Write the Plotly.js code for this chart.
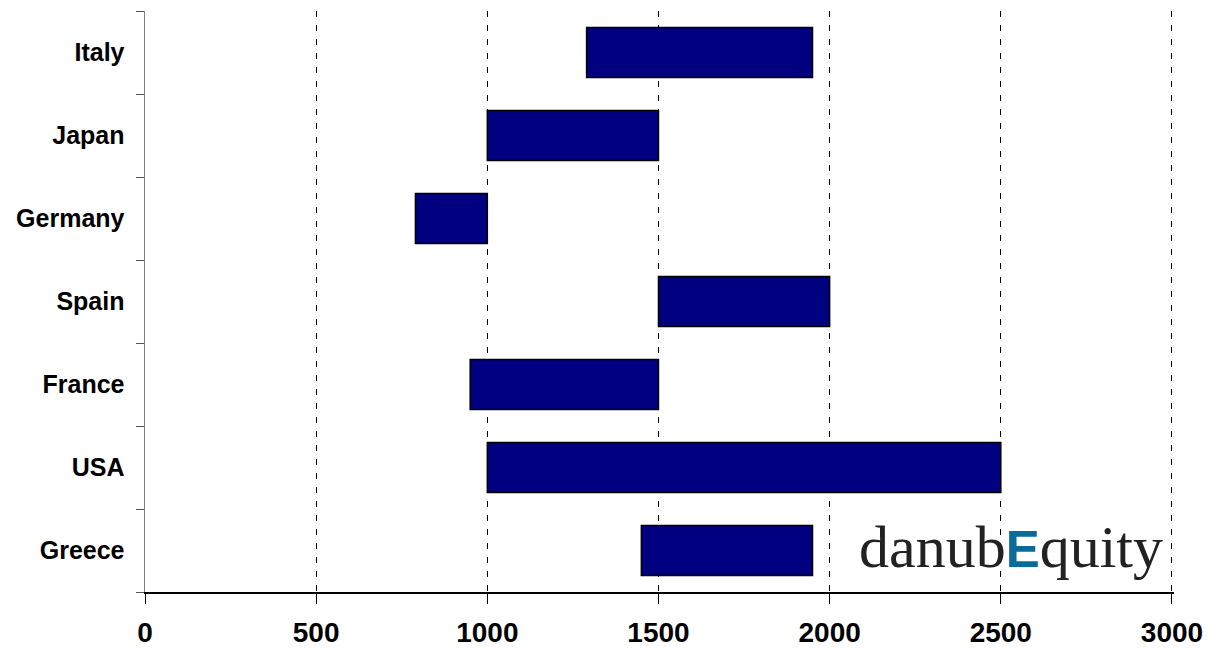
<!DOCTYPE html>
<html>
<head>
<meta charset="utf-8">
<script src="https://cdn.plot.ly/plotly-3.0.1.min.js"></script>
<style>html,body{margin:0;padding:0;background:#fff;}#chart{width:1218px;height:650px;}</style>
</head>
<body>
<div id="chart"></div>
<script>
const countries = ["Greece", "USA", "France", "Spain", "Germany", "Japan", "Italy"];
const rangeStart = [1450, 1000, 950, 1500, 790, 1000, 1290];
const rangeEnd = [1950, 2500, 1500, 2000, 1000, 1500, 1950];
const xTicks = [0, 500, 1000, 1500, 2000, 2500, 3000];

const trace = {
  type: "bar",
  orientation: "h",
  y: countries,
  base: rangeStart,
  x: rangeEnd.map((e, i) => e - rangeStart[i]),
  width: 0.6,
  marker: { color: "#000080", line: { color: "#000000", width: 1.5 } },
  hoverinfo: "skip",
  showlegend: false
};

const layout = {
  width: 1218,
  height: 650,
  margin: { l: 145, r: 44, t: 11, b: 58 },
  paper_bgcolor: "#ffffff",
  plot_bgcolor: "#ffffff",
  font: { family: "Liberation Sans, Arial, sans-serif", color: "#000" },
  xaxis: {
    range: [0, 3006],
    tickvals: xTicks,
    ticktext: xTicks.map(String),
    showgrid: true,
    gridcolor: "#000000",
    gridwidth: 1,
    griddash: "6px,8px",
    zeroline: false,
    showline: true,
    linecolor: "#000000",
    linewidth: 1.5,
    ticks: "outside",
    ticklen: 10,
    tickcolor: "#000000",
    tickwidth: 1,
    ticklabelstandoff: 5,
    tickfont: { size: 28, family: "Liberation Sans, Arial, sans-serif", weight: "bold", color: "#000" },
    fixedrange: true
  },
  yaxis: {
    type: "category",
    categoryorder: "array",
    categoryarray: countries,
    range: [-0.5, 6.5],
    showgrid: false,
    zeroline: false,
    showline: true,
    linecolor: "#808080",
    linewidth: 1.5,
    ticks: "outside",
    tickson: "boundaries",
    ticklen: 8,
    tickcolor: "#555555",
    tickwidth: 1,
    ticklabelstandoff: 14,
    tickfont: { size: 25, family: "Liberation Sans, Arial, sans-serif", weight: "bold", color: "#000" },
    fixedrange: true
  },
  annotations: [{
    xref: "paper", yref: "paper",
    x: 0.692, y: 0.078,
    xanchor: "left", yanchor: "middle",
    showarrow: false,
    text: "danub<span style=\"color:#0a6a9a;font-family:'Liberation Sans',Arial,sans-serif;font-weight:bold;font-size:51px\">E</span>quity",
    font: { family: "Liberation Serif, Times New Roman, serif", size: 60, color: "#222222" }
  }]
};

Plotly.newPlot("chart", [trace], layout, { displayModeBar: false, staticPlot: true });
</script>
</body>
</html>
